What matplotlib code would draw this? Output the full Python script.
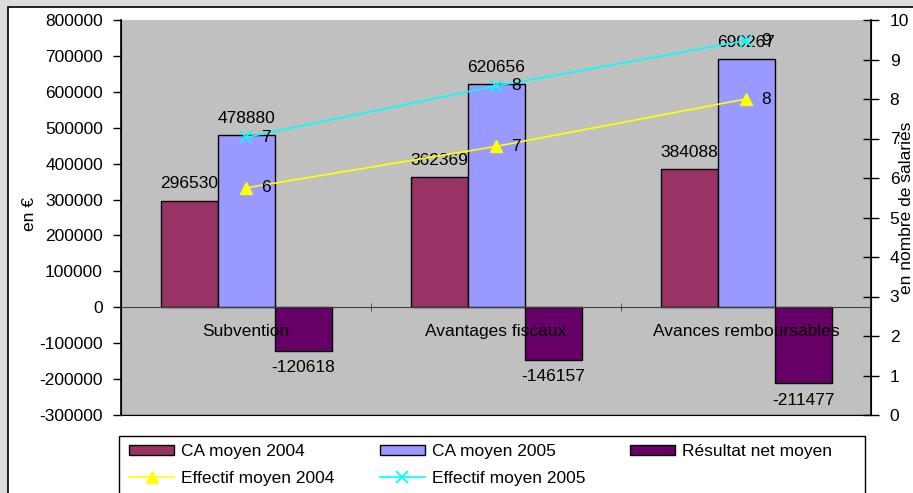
import numpy as np
import matplotlib.pyplot as plt
from matplotlib.patches import Rectangle

plt.rcParams['font.family'] = ['Liberation Sans', 'DejaVu Sans']
plt.rcParams['font.size'] = 12.5

# Données
categories = ['Subvention', 'Avantages fiscaux', 'Avances remboursables']
ca_2004 = [296530, 362369, 384088]
ca_2005 = [478880, 620656, 690267]
resultat = [-120618, -146157, -211477]
effectif_2004 = [5.75, 6.8, 8.0]
effectif_2005 = [7.03, 8.33, 9.48]

W, H = 913, 493
fig = plt.figure(figsize=(W / 100, H / 100), dpi=100)
fig.patch.set_facecolor('#dcdcdc')

# cadre blanc du graphique (coupé à droite et en bas)
fig.add_artist(Rectangle((8 / W, -0.1), 1.2, 1 - 7 / H + 0.1, transform=fig.transFigure,
                         facecolor='white', edgecolor='black', lw=1.2, zorder=-2))

ax = fig.add_axes([121 / W, (H - 415) / H, (871 - 121) / W, (415 - 20) / H])
ax.set_facecolor('#c0c0c0')

x = np.arange(len(categories))
w = 0.228
b1 = ax.bar(x - w, ca_2004, w, color='#993366', edgecolor='black', lw=1, label='CA moyen 2004', zorder=2)
b2 = ax.bar(x, ca_2005, w, color='#9999ff', edgecolor='black', lw=1, label='CA moyen 2005', zorder=2)
b3 = ax.bar(x + w, resultat, w, color='#660066', edgecolor='black', lw=1, label='Résultat net moyen', zorder=2)

for bars, vals in [(b1, ca_2004), (b2, ca_2005), (b3, resultat)]:
    for r, v in zip(bars, vals):
        off = 17 if v > 0 else -17
        ax.annotate(str(v), (r.get_x() + r.get_width() / 2, v), xytext=(0, off),
                    textcoords='offset pixels', ha='center', va='center', zorder=5)

ax.set_xlim(-0.5, 2.5)
ax.set_ylim(-300000, 800000)
ax.set_yticks(np.arange(-300000, 800001, 100000))
ax.yaxis.set_major_formatter(plt.FuncFormatter(lambda v, p: '%d' % v))
ax.tick_params(axis='y', length=6, width=1, pad=7)
ax.set_ylabel('en €')
ax.yaxis.set_label_coords(-0.112, 0.51)

ax.spines['top'].set_visible(False)
ax.spines['bottom'].set_position(('data', 0))
ax.spines['bottom'].set_color('#404040')
ax.spines['left'].set_linewidth(1.2)
ax.set_xticks(x)
ax.set_xticklabels(categories)
ax.set_xticks([0.5, 1.5], minor=True)
ax.tick_params(axis='x', which='major', length=0, pad=12)
ax.tick_params(axis='x', which='minor', length=6, direction='inout', color='#404040')
ax.xaxis.set_zorder(4)
ax.axhline(-300000, color='#a0a0a0', lw=1.5, zorder=1)

ax2 = ax.twinx()
ax2.set_ylim(0, 10)
ax2.set_yticks(range(0, 11))
ax2.tick_params(axis='y', length=11, direction='inout', width=1, pad=8)
ax2.spines['top'].set_visible(False)
ax2.spines['right'].set_linewidth(1.2)
ax2.set_ylabel('en nombre de salariés')
ax2.yaxis.set_label_coords(1.038, 0.525)

l1, = ax2.plot(x, effectif_2004, color='#ffff00', lw=1.2, marker='^', ms=9, label='Effectif moyen 2004')
l2, = ax2.plot(x, effectif_2005, color='#00ffff', lw=1.2, marker='x', ms=9, mew=1.3, label='Effectif moyen 2005')
for vals in (effectif_2004, effectif_2005):
    for xi, v in zip(x, vals):
        ax2.annotate('%.0f' % v, (xi, v), xytext=(20, 0), textcoords='offset pixels',
                     ha='center', va='center')

# légende
fig.add_artist(Rectangle((119 / W, -0.1), (865 - 119) / W, (H - 436) / H + 0.1,
                         transform=fig.transFigure, facecolor='white', edgecolor='black', lw=1, zorder=-1))
fig.legend([b1, l1, b2, l2, b3], [b1.get_label(), l1.get_label(), b2.get_label(), l2.get_label(), b3.get_label()],
           ncol=3, loc='upper left', bbox_to_anchor=(129 / W, 1 - 444 / H), frameon=False,
           borderpad=0, borderaxespad=0, handlelength=2.6, handleheight=0.55, handletextpad=0.4,
           columnspacing=2.6, labelspacing=0.67)

fig.savefig('out.png', dpi=100)
